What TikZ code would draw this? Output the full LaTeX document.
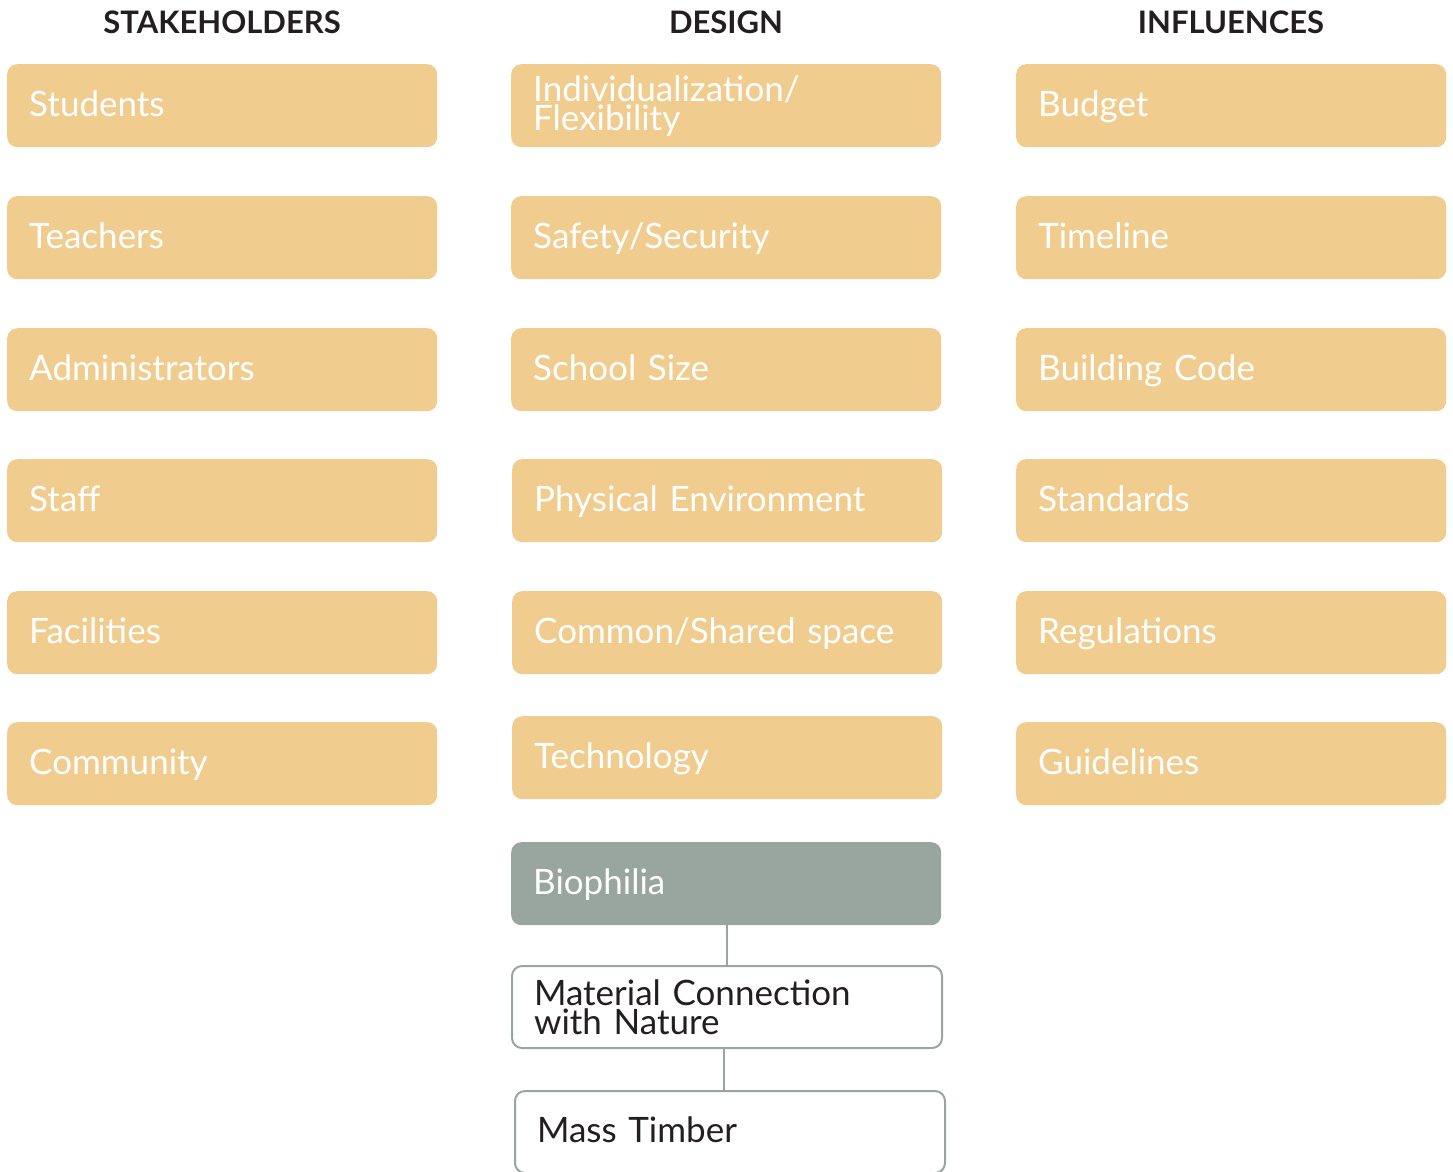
\documentclass[tikz,border=0pt]{standalone}
\usepackage{fontspec}
\setmainfont{Lato}
\definecolor{sand}{HTML}{F0CC8E}
\definecolor{sage}{HTML}{99A69F}
\definecolor{ink}{HTML}{231F20}
\begin{document}
\begin{tikzpicture}[x=1pt,y=-1pt,
  card/.style={rectangle, rounded corners=10pt, anchor=north west,
    minimum width=430pt, minimum height=83pt, text width=386pt,
    inner xsep=22pt, inner ysep=0pt, align=left,
    font=\fontsize{35}{29}\selectfont},
  oneline/.style={text height=29pt, text depth=8pt},
  sandcard/.style={card, oneline, fill=sand, text=white},
  sandtwo/.style={card, fill=sand, text=white},
  sagecard/.style={card, oneline, fill=sage, text=white},
  outlinecard/.style={card, draw=sage, line width=2pt, fill=white, text=ink,
    minimum height=82pt},
  heading/.style={font=\fontsize{31}{31}\selectfont\bfseries, text=ink, anchor=center},
  link/.style={draw=sage, line width=2pt}]
\useasboundingbox (0,0) rectangle (1453,1171);

% column headings
\node[heading] (hS) at (222,22) {STAKEHOLDERS};
\node[heading] (hD) at (726,22) {DESIGN};
\node[heading] (hI) at (1231,22) {INFLUENCES};

% stakeholders
\node[sandcard] (s1) at (7,64)  {Students};
\node[sandcard] (s2) at (7,196) {Teachers};
\node[sandcard] (s3) at (7,328) {Administrators};
\node[sandcard] (s4) at (7,459) {Staff};
\node[sandcard] (s5) at (7,591) {Facilities};
\node[sandcard] (s6) at (7,722) {Community};

% design
\node[sandtwo]  (d1) at (511,64)  {Individualization/\\Flexibility};
\node[sandcard] (d2) at (511,196) {Safety/Security};
\node[sandcard] (d3) at (511,328) {School Size};
\node[sandcard] (d4) at (512,459) {Physical Environment};
\node[sandcard] (d5) at (512,591) {Common/Shared space};
\node[sandcard] (d6) at (512,716) {Technology};
\node[sagecard] (d7) at (511,842) {Biophilia};
\node[outlinecard] (d8) at (511,965) {Material Connection\\with Nature};
\node[outlinecard, oneline] (d9) at (514,1090) {Mass Timber};

% influences
\node[sandcard] (i1) at (1016,64)  {Budget};
\node[sandcard] (i2) at (1016,196) {Timeline};
\node[sandcard] (i3) at (1016,328) {Building Code};
\node[sandcard] (i4) at (1016,459) {Standards};
\node[sandcard] (i5) at (1016,591) {Regulations};
\node[sandcard] (i6) at (1016,722) {Guidelines};

% biophilia chain
\coordinate (c1) at (727,0);
\coordinate (c2) at (724,0);
\draw[link] (c1 |- d7.south) -- (c1 |- d8.north);
\draw[link] (c2 |- d8.south) -- (c2 |- d9.north);
\end{tikzpicture}
\end{document}
